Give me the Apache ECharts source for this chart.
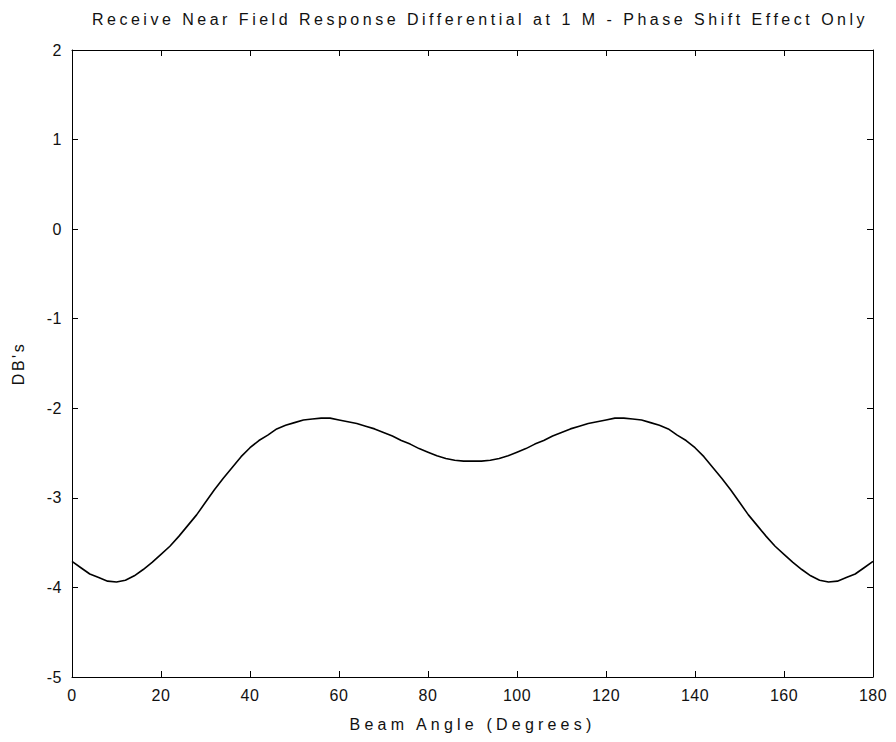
<!DOCTYPE html>
<html>
<head>
<meta charset="utf-8">
<script src="https://cdn.jsdelivr.net/npm/echarts@6/dist/echarts.min.js"></script>
<style>
  html, body { margin: 0; padding: 0; background: #fff; }
  #chart { width: 896px; height: 742px; }
</style>
</head>
<body>
<div id="chart"></div>
<script>
// beam angle in degrees
var angles = [0, 2, 4, 6, 8, 10, 12, 14, 16, 18, 20, 22, 24, 26, 28, 30, 32, 34, 36, 38,
	40, 42, 44, 46, 48, 50, 52, 54, 56, 58, 60, 62, 64, 66, 68, 70, 72, 74, 76, 78,
	80, 82, 84, 86, 88, 90, 92, 94, 96, 98, 100, 102, 104, 106, 108, 110, 112, 114, 116, 118,
	120, 122, 124, 126, 128, 130, 132, 134, 136, 138, 140, 142, 144, 146, 148, 150, 152, 154, 156, 158,
	160, 162, 164, 166, 168, 170, 172, 174, 176, 178, 180];
// response differential, dB
var dbs = [-3.71, -3.78, -3.85, -3.89, -3.93, -3.94, -3.92, -3.87, -3.80, -3.72,
	-3.63, -3.54, -3.43, -3.31, -3.19, -3.05, -2.91, -2.78, -2.66, -2.54,
	-2.44, -2.36, -2.30, -2.23, -2.19, -2.16, -2.13, -2.12, -2.11, -2.11,
	-2.13, -2.15, -2.17, -2.20, -2.23, -2.27, -2.31, -2.36, -2.40, -2.45,
	-2.49, -2.53, -2.56, -2.58, -2.59, -2.59, -2.59, -2.58, -2.56, -2.53,
	-2.49, -2.45, -2.40, -2.36, -2.31, -2.27, -2.23, -2.20, -2.17, -2.15,
	-2.13, -2.11, -2.11, -2.12, -2.13, -2.16, -2.19, -2.23, -2.30, -2.36,
	-2.44, -2.54, -2.66, -2.78, -2.91, -3.05, -3.19, -3.31, -3.43, -3.54,
	-3.63, -3.72, -3.80, -3.87, -3.92, -3.94, -3.93, -3.89, -3.85, -3.78, -3.71];

var chartTitle = 'Receive Near Field Response Differential at 1 M - Phase Shift Effect Only';
var xName = 'Beam Angle (Degrees)';
var yName = "DB's";

var points = angles.map(function(a, i) {
	return [a, dbs[i]];
});

var font = 'Liberation Sans';
var myChart = echarts.init(document.getElementById('chart'), null, { renderer: 'svg' });

var tickStyle = {
	show: true,
	inside: true,
	length: 6,
	lineStyle: { color: '#000', width: 1 }
};
var lineStyle = { onZero: false, lineStyle: { color: '#000', width: 1 } };

var option = {
	animation: false,
	backgroundColor: '#fff',
	title: {
		text: chartTitle,
		left: 475,
		textAlign: 'center',
		top: 6,
		textStyle: {
			fontFamily: font,
			fontSize: 16,
			fontWeight: 'normal',
			color: '#111'
		}
	},
	grid: {
		left: 72,
		right: 23,
		top: 50,
		bottom: 65
	},
	xAxis: [{
		type: 'value',
		min: 0,
		max: 180,
		interval: 20,
		name: xName,
		nameLocation: 'middle',
		nameGap: 39,
		nameMoveOverlap: false,
		nameTextStyle: { fontFamily: font, fontSize: 16, color: '#111' },
		axisLine: lineStyle,
		axisTick: tickStyle,
		splitLine: { show: false },
		axisLabel: { fontFamily: font, fontSize: 16, color: '#111', margin: 10 }
	}, {
		type: 'value',
		position: 'top',
		min: 0,
		max: 180,
		interval: 20,
		axisLine: lineStyle,
		axisTick: tickStyle,
		splitLine: { show: false },
		axisLabel: { show: false }
	}],
	yAxis: [{
		type: 'value',
		min: -5,
		max: 2,
		interval: 1,
		name: yName,
		nameLocation: 'middle',
		nameGap: 46,
		nameMoveOverlap: false,
		nameTextStyle: { fontFamily: font, fontSize: 16, color: '#111' },
		axisLine: lineStyle,
		axisTick: tickStyle,
		splitLine: { show: false },
		axisLabel: { fontFamily: font, fontSize: 16, color: '#111', margin: 10 }
	}, {
		type: 'value',
		position: 'right',
		min: -5,
		max: 2,
		interval: 1,
		axisLine: lineStyle,
		axisTick: tickStyle,
		splitLine: { show: false },
		axisLabel: { show: false }
	}],
	series: [{
		type: 'line',
		data: points,
		showSymbol: false,
		smooth: false,
		lineStyle: { color: '#000', width: 1.6 }
	}]
};
myChart.setOption(option, true);

// the original uses widely spaced lettering for title and axis names
var spacing = {};
spacing[chartTitle] = '3.5px';
spacing[xName] = '4.2px';
spacing[yName] = '2.5px';
function spaceLetters() {
	document.querySelectorAll('#chart svg text').forEach(function(t) {
		var s = spacing[t.textContent];
		t.setAttribute('letter-spacing', s || '0.5px');
	});
}
spaceLetters();
myChart.on('finished', spaceLetters);
</script>
</body>
</html>
